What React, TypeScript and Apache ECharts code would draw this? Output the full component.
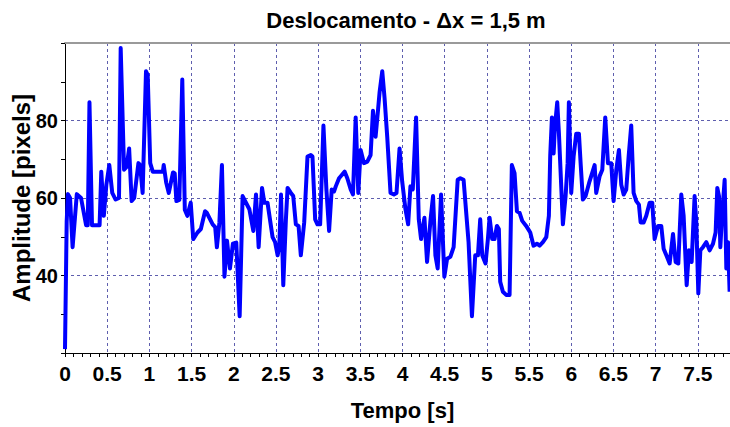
import { useEffect, useRef } from "react";
import * as echarts from "echarts";

// Time samples (s) and measured displacement amplitude (pixels)
const tempo = [
  0.0, 0.02, 0.035, 0.06, 0.09, 0.14, 0.19, 0.25, 0.27, 0.29, 0.32, 0.41, 0.43, 0.46, 0.49, 0.525,
  0.56, 0.6, 0.64, 0.66, 0.7, 0.73, 0.76, 0.79, 0.82, 0.87, 0.89, 0.92, 0.96, 0.98, 1.01, 1.04,
  1.16, 1.17, 1.2, 1.23, 1.28, 1.3, 1.32, 1.355, 1.39, 1.42, 1.45, 1.49, 1.52, 1.57, 1.61, 1.66,
  1.68, 1.75, 1.78, 1.8, 1.83, 1.86, 1.89, 1.92, 1.955, 1.99, 2.03, 2.07, 2.105,
  2.185, 2.232, 2.264, 2.295, 2.335, 2.362, 2.4, 2.46, 2.49, 2.52, 2.54, 2.56, 2.587, 2.618, 2.638,
  2.677, 2.705, 2.736, 2.768, 2.795, 2.835, 2.874, 2.913, 2.933, 2.965, 2.992, 3.024, 3.063, 3.098,
  3.13, 3.161, 3.189, 3.209, 3.248, 3.268, 3.315, 3.346, 3.386, 3.413, 3.445, 3.476, 3.504, 3.543,
  3.583, 3.622, 3.65, 3.681, 3.709, 3.728, 3.76, 3.787, 3.819, 3.858, 3.898, 3.929, 3.965, 3.996,
  4.035, 4.067, 4.094, 4.122, 4.161, 4.193, 4.22, 4.26, 4.291, 4.331, 4.362, 4.39, 4.417, 4.457,
  4.496, 4.528, 4.567, 4.606, 4.654, 4.685, 4.724, 4.783, 4.823, 4.862, 4.894, 4.921,
  4.945, 4.984, 5.012, 5.032, 5.063, 5.091, 5.119, 5.142, 5.158, 5.19, 5.229, 5.269, 5.296, 5.328,
  5.356, 5.387, 5.419, 5.466, 5.514, 5.553, 5.593, 5.625, 5.664, 5.704, 5.735, 5.751, 5.771, 5.791,
  5.806, 5.834, 5.854, 5.901, 5.933, 5.957, 5.972, 6.0, 6.028, 6.059, 6.091, 6.111, 6.138, 6.17,
  6.217, 6.277, 6.296, 6.336, 6.368, 6.403, 6.435, 6.474, 6.502, 6.534, 6.565, 6.593, 6.621, 6.652,
  6.68, 6.711, 6.739, 6.771, 6.802, 6.822, 6.858, 6.889, 6.929, 6.96, 6.988, 7.028, 7.067, 7.095,
  7.127, 7.166, 7.206, 7.237, 7.269, 7.304, 7.332, 7.368, 7.395, 7.427, 7.462, 7.482, 7.506, 7.53,
  7.561, 7.601, 7.64, 7.68, 7.711, 7.731, 7.751, 7.767, 7.787, 7.818, 7.838, 7.858, 7.877,
];

const amplitude = [
  21, 54, 61, 60, 47.3, 61, 60, 53, 53, 84.7, 53, 53, 66.8, 55.4, 63.4, 68.5,
  61.3, 59.6, 60, 98.7, 67.3, 68, 72.8, 59.2, 60, 69, 68.5, 61.3, 92.7, 91.8, 69, 66.8,
  66.8, 68.5, 63.9, 61.3, 66.6, 66.4, 59.2, 59.5, 90.6, 57, 55.4, 58.8, 49.4, 51.1, 52, 56.6,
  56.2, 53.2, 52.5, 47.3, 53.7, 68.5, 39.7, 49, 41.8, 48.2, 48.5, 29.5, 60.5,
  57.1, 51.5, 60.9, 47.3, 62.6, 58.8, 58.8, 49.9, 48.6, 45.2, 47.7, 60.9, 37.5, 54.5, 62.6,
  61.3, 60.5, 53.2, 52.8, 45.2, 53.7, 70.7, 71.1, 70.7, 54.5, 53.2, 53.2, 78.7, 62.2,
  51.5, 62.2, 61.7, 63.0, 65.1, 65.6, 66.8, 65.1, 62.2, 60.9, 80.8, 61.3, 72.4, 69.0,
  69.4, 71.1, 82.5, 75.8, 82.5, 87.2, 92.7, 85.9, 75.8, 61.3, 60.9, 61.3, 72.8, 64.3,
  57.1, 53.2, 63.0, 62.2, 80.8, 54.5, 49.4, 54.9, 43.5, 54.1, 60.5, 45.2, 41.8, 60.9,
  39.7, 44.3, 44.8, 47.3, 64.7, 65.1, 64.7, 48.6, 29.5, 45.2, 45.2, 54.5,
  45.2, 43.1, 49.4, 54.9, 49.4, 49.4, 52.8, 52.0, 38.4, 35.8, 35.0, 35.0, 68.5, 66.4,
  56.6, 56.2, 54.1, 52.8, 51.1, 47.7, 48.2, 47.7, 48.6, 49.9, 55.4, 71.1, 80.8, 71.5,
  78.3, 84.7, 76.6, 53.2, 60.5, 69.0, 84.7, 61.3, 70.7, 76.6, 76.6, 69.0, 59.6, 60.5,
  64.3, 68.5, 61.3, 65.6, 67.3, 80.8, 69.0, 69.0, 59.2, 67.3, 72.4, 63.4, 60.9, 62.2,
  70.7, 78.7, 61.3, 59.2, 58.3, 53.7, 53.7, 55.4, 58.8, 58.8, 49.4, 52.8, 52.8, 46.9,
  45.2, 43.1, 50.7, 43.5, 43.1, 60.9, 55.4, 37.5, 46.5, 43.5, 60.5, 53.7, 35.4, 46.5,
  47.3, 48.6, 46.5, 48.2, 51.1, 62.6, 60.5, 47.3, 55.4, 64.7, 41.8, 48.6, 35.8,
];

const titleText = "Deslocamento - \u0394x = 1,5 m";
const xName = "Tempo [s]";
const yName = "Amplitude [pixels]";

const xMin = 0;
const xMax = 8;
const xStep = 0.5;
const yMin = 20;
const yMax = 100;
const yStep = 20;

const sans = "'Liberation Sans', Arial, Helvetica, sans-serif";

export default function App() {
  const ref = useRef<HTMLDivElement>(null);

  useEffect(() => {
    if (!ref.current) return;
    const chart = echarts.init(ref.current, undefined, { renderer: "svg" });
    const points = tempo.map((t, i) => [t, amplitude[i]]);
    const gridLine = { show: true, lineStyle: { color: "#5e5eae", width: 1, type: [3, 3] as number[] } };

    chart.setOption({
      animation: false,
      backgroundColor: "#ffffff",
      graphic: [
        {
          type: "text",
          x: 406,
          y: 9,
          style: {
            text: titleText,
            fill: "#000",
            font: `bold 22px ${sans}`,
            textAlign: "center",
            textVerticalAlign: "top",
          },
        },
      ],
      grid: {
        left: 65,
        top: 43,
        right: -10,
        bottom: 74,
        containLabel: false,
        outerBoundsMode: "none",
      },
      xAxis: [
        {
          type: "value",
          min: xMin,
          max: xMax,
          interval: xStep,
          name: xName,
          nameLocation: "middle",
          nameGap: 46,
          nameMoveOverlap: false,
          nameTextStyle: { color: "#000", fontSize: 22, fontWeight: "bold", fontFamily: sans },
          axisLine: { show: true, onZero: false, lineStyle: { color: "#000", width: 1 } },
          axisTick: { show: true, inside: false, length: 4, lineStyle: { color: "#000" } },
          minorTick: { show: true, splitNumber: 5, length: 4, lineStyle: { color: "#000" } },
          axisLabel: {
            color: "#000",
            fontSize: 21,
            fontWeight: "bold",
            fontFamily: sans,
            margin: 10,
            showMaxLabel: false,
          },
          splitLine: gridLine,
          minorSplitLine: { show: false },
        },
        {
          type: "value",
          position: "top",
          min: xMin,
          max: xMax,
          interval: xStep,
          axisLine: { show: true, onZero: false, lineStyle: { color: "#9a9a9a", width: 2 } },
          axisTick: { show: false },
          axisLabel: { show: false },
          splitLine: { show: false },
        },
      ],
      yAxis: {
        type: "value",
        min: yMin,
        max: yMax,
        interval: yStep,
        name: yName,
        nameLocation: "middle",
        nameGap: 32,
        nameMoveOverlap: false,
        nameRotate: 90,
        nameTextStyle: { color: "#000", fontSize: 24, fontWeight: "bold", fontFamily: sans },
        axisLine: { show: true, onZero: false, lineStyle: { color: "#000", width: 1 } },
        axisTick: { show: true, inside: false, length: 4, lineStyle: { color: "#000" } },
        minorTick: { show: true, splitNumber: 2, length: 4, lineStyle: { color: "#000" } },
        axisLabel: {
          color: "#000",
          fontSize: 20,
          fontWeight: "bold",
          fontFamily: sans,
          margin: 7,
          showMinLabel: false,
          showMaxLabel: false,
        },
        splitLine: { ...gridLine, showMinLine: false, showMaxLine: false },
      },
      series: [
        {
          type: "line",
          data: points,
          xAxisIndex: 0,
          showSymbol: false,
          symbol: "none",
          lineStyle: { color: "#0000ff", width: 4, join: "round" },
          clip: true,
          z: 3,
        },
      ],
    });

    return () => chart.dispose();
  }, []);

  return (
    <div
      ref={ref}
      style={{ position: "fixed", left: 0, top: 0, width: 730, height: 427, background: "#fff" }}
    />
  );
}
